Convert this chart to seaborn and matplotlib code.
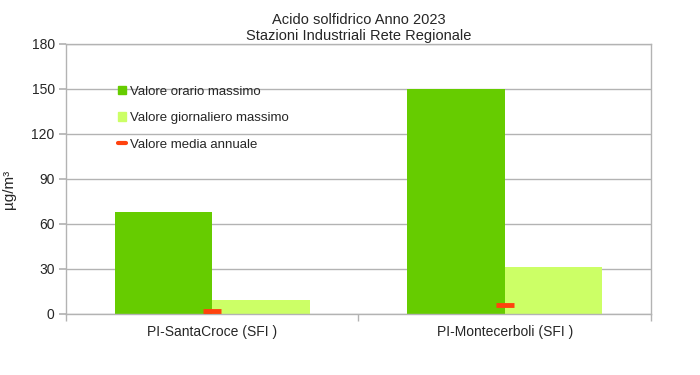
import matplotlib
matplotlib.use("Agg")
import matplotlib.pyplot as plt
import pandas as pd
import seaborn as sns
from matplotlib.lines import Line2D

stations = ["PI-SantaCroce (SFI )", "PI-Montecerboli (SFI )"]
orario_max = [68, 150]
giornaliero_max = [9, 31]
media_annuale = [2, 6]
series_names = ["Valore orario massimo", "Valore giornaliero massimo"]
media_name = "Valore media annuale"
yticks = [0, 30, 60, 90, 120, 150, 180]

df = pd.DataFrame({
    "station": stations * 2,
    "serie": [series_names[0]] * 2 + [series_names[1]] * 2,
    "value": orario_max + giornaliero_max,
})

sns.set_theme(style="white")
plt.rcParams["font.family"] = ["Liberation Sans", "DejaVu Sans"]

grid_col = "#b3b3b3"
fig = plt.figure(figsize=(7, 3.75), dpi=100)
ax = fig.add_axes([0.094, 0.163, 0.836, 0.72])

sns.barplot(data=df, x="station", y="value", hue="serie", hue_order=series_names,
            palette=["#66cc00", "#ccff66"], width=0.667, gap=0, saturation=1,
            linewidth=0, legend=False, ax=ax, zorder=2)
ax.plot(range(len(stations)), media_annuale, linestyle="none", marker="_",
        markersize=13, markeredgewidth=3.5, color="#ff420e", zorder=3)

ax.set_ylim(0, 180)
ax.set_xlim(-0.5, len(stations) - 0.5)
ax.set_yticks(yticks)
ax.yaxis.grid(True, color=grid_col, linewidth=1)
ax.set_axisbelow(True)
ax.tick_params(axis="y", length=5, color=grid_col, labelsize=10, pad=3, left=True)
ax.set_xticks(range(len(stations)))
ax.set_xticklabels(stations)
ax.tick_params(axis="x", which="major", length=0, labelsize=10, pad=8)
ax.set_xticks([i - 0.5 for i in range(len(stations) + 1)], minor=True)
ax.tick_params(axis="x", which="minor", length=5, color=grid_col, bottom=True)
for s in ax.spines.values():
    s.set_color(grid_col)
    s.set_linewidth(1)

ax.set_xlabel("")
ax.set_ylabel("µg/m³", fontsize=11)
ax.yaxis.set_label_coords(-0.085, 0.46)
ax.set_title("Acido solfidrico Anno 2023\nStazioni Industriali Rete Regionale",
             fontsize=10.5, pad=3, linespacing=1.2)

handles = [plt.Rectangle((0, 0), 1, 1, color=c) for c in ["#66cc00", "#ccff66"]]
handles.append(Line2D([0], [0], color="#ff420e", linewidth=3))
ax.legend(handles, series_names + [media_name], loc="upper left",
          bbox_to_anchor=(0.08, 0.865), frameon=False, fontsize=9.5,
          handlelength=0.6, handleheight=0.6, handletextpad=0.3,
          labelspacing=1.1, borderaxespad=0)

fig.savefig("out.png", dpi=100)
